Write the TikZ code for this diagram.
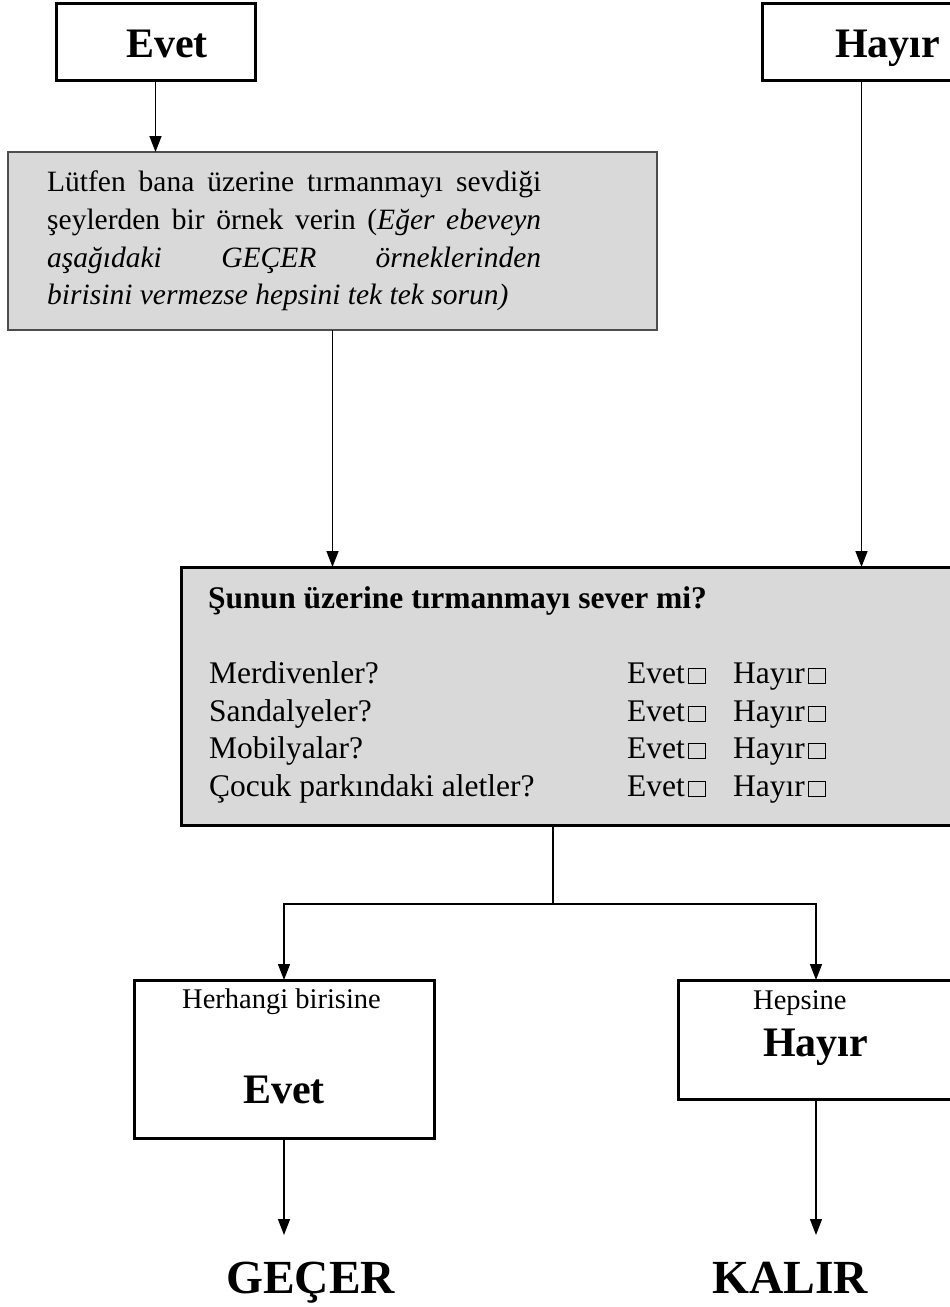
\documentclass[tikz,border=0pt]{standalone}
\usepackage{fontspec}
\setmainfont{Liberation Serif}
\usetikzlibrary{arrows.meta}
\definecolor{boxgray}{HTML}{D9D9D9}
\definecolor{edgegray}{HTML}{4D4D4D}
\newcommand{\cbx}{\hspace{3pt}{\setlength{\fboxsep}{0pt}\setlength{\fboxrule}{1.1pt}\fbox{\rule{0pt}{14pt}\hspace{16pt}}}}
\begin{document}
\begin{tikzpicture}[x=1pt,y=-1pt,
  box/.style={draw, line width=3pt, inner sep=0pt, outer sep=0pt, anchor=north west},
  gboxa/.style={draw=edgegray, fill=boxgray, line width=2pt, inner sep=0pt, outer sep=0pt, anchor=north west},
  gboxb/.style={draw, fill=boxgray, line width=3pt, inner sep=0pt, outer sep=0pt, anchor=north west},
  conn/.style={line width=1.5pt},
  arr/.style={conn, -{Triangle[length=16pt,width=12pt]}},
  txt/.style={inner sep=0pt, anchor=base west},
  big/.style={txt, font=\fontsize{42}{50}\selectfont\bfseries},
  huge/.style={txt, font=\fontsize{47.5}{56}\selectfont\bfseries},
  body/.style={txt, font=\fontsize{29.5}{36}\selectfont},
  bodyb/.style={txt, font=\fontsize{31.5}{38}\selectfont},
  small/.style={txt, font=\fontsize{28.5}{34}\selectfont},
]
\useasboundingbox (0,0) rectangle (950,1307);

% top boxes
\node[box, minimum width=199pt, minimum height=77pt] (evet) at (56,3) {};
\node[big] (evett) at (126,57) {Evet};
\node[box, minimum width=199pt, minimum height=77pt] (hayir) at (762,3) {};
\node[big] (hayirt) at (835,57) {Hayır};

% first gray box
\node[gboxa, minimum width=649pt, minimum height=178pt] (q1) at (8,152) {};
\node[body] (q1l1) at (47,191) {\makebox[494pt][s]{Lütfen bana üzerine tırmanmayı sevdiği}};
\node[body] (q1l2) at (47,229) {\makebox[494pt][s]{şeylerden bir örnek verin (\textit{Eğer ebeveyn}}};
\node[body] (q1l3) at (47,267) {\makebox[494pt][s]{\textit{aşağıdaki GEÇER örneklerinden}}};
\node[body] (q1l4) at (47,304) {\textit{birisini vermezse hepsini tek tek sorun)}};

% second gray box
\node[gboxb, minimum width=800pt, minimum height=258pt] (q2) at (181,567) {};
\node[bodyb, font=\fontsize{31.5}{38}\selectfont\bfseries] (q2t) at (208,608) {Şunun üzerine tırmanmayı sever mi?};
\node[bodyb] (r1) at (209,683) {Merdivenler?};
\node[bodyb] (r2) at (209,721) {Sandalyeler?};
\node[bodyb] (r3) at (209,758) {Mobilyalar?};
\node[bodyb] (r4) at (209,796) {Çocuk parkındaki aletler?};
\node[bodyb] (r1e) at (627,683) {Evet\cbx};
\node[bodyb] (r2e) at (627,721) {Evet\cbx};
\node[bodyb] (r3e) at (627,758) {Evet\cbx};
\node[bodyb] (r4e) at (627,796) {Evet\cbx};
\node[bodyb] (r1h) at (733,683) {Hayır\cbx};
\node[bodyb] (r2h) at (733,721) {Hayır\cbx};
\node[bodyb] (r3h) at (733,758) {Hayır\cbx};
\node[bodyb] (r4h) at (733,796) {Hayır\cbx};

% lower boxes
\node[box, minimum width=300pt, minimum height=158pt] (yes) at (134,980) {};
\node[small] (yest1) at (182,1008) {Herhangi birisine};
\node[big] (yest2) at (243,1103) {Evet};
\node[box, minimum width=276pt, minimum height=119pt] (no) at (678,980) {};
\node[small] (not1) at (753,1009) {Hepsine};
\node[big] (not2) at (763,1056) {Hayır};

% results
\node[huge] (gecer) at (226,1293) {GEÇER};
\node[huge] (kalir) at (712,1293) {KALIR};

% connectors
\coordinate (split) at (553,904);
\coordinate (gend) at (284,1235);
\coordinate (kend) at (816,1235);
\draw[arr] (evet.south) -- (evet.south |- q1.north);
\draw[arr] (q1.south) -- (q1.south |- q2.north);
\draw[arr] (hayir.south) -- (hayir.south |- q2.north);
\draw[conn] (q2.south -| split) -- (split);
\draw[arr] (split) -| (yes.north);
\draw[arr] (split) -| (no.north);
\draw[arr] (yes.south) -- (yes.south |- gend);
\draw[arr] (no.south) -- (no.south |- kend);
\end{tikzpicture}
\end{document}
